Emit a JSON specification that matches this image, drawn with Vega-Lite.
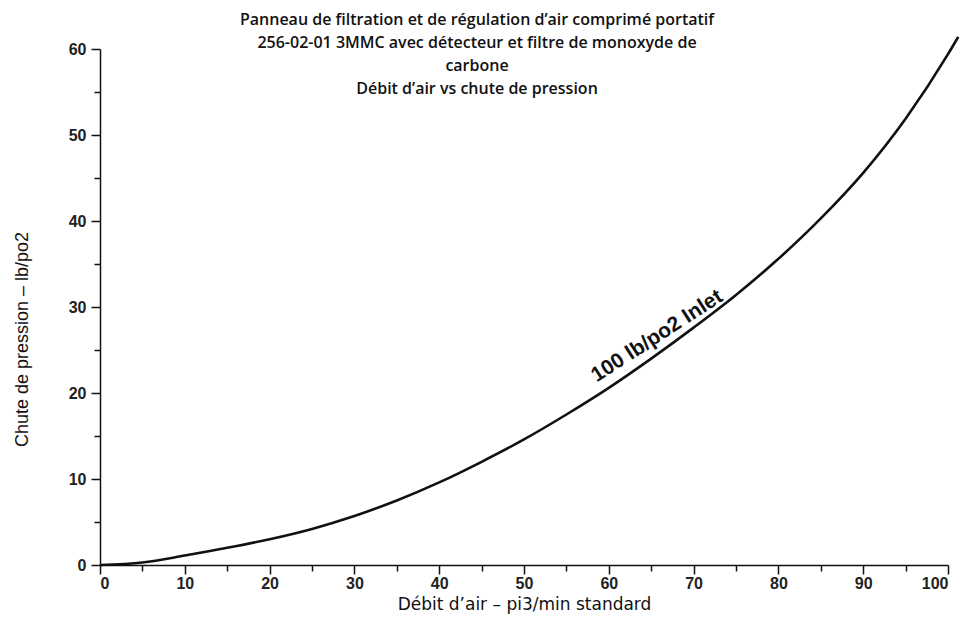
{
  "$schema": "https://vega.github.io/schema/vega-lite/v6.json",
  "autosize": "none",
  "width": 848,
  "height": 516,
  "padding": {"left": 100, "top": 49, "right": 19, "bottom": 63},
  "background": "white",
  "config": {
    "view": {"stroke": null},
    "axis": {
      "grid": false,
      "domainColor": "#111",
      "domainWidth": 1.5,
      "tickColor": "#111",
      "tickWidth": 1.5,
      "labelFont": "Liberation Sans, Arial, sans-serif",
      "labelFontSize": 16,
      "labelFontWeight": "bold",
      "labelColor": "#222",
      "titleFontWeight": "normal",
      "titleColor": "#111"
    }
  },
  "title": {
    "text": ["Panneau de filtration et de régulation d’air comprimé portatif", "256-02-01 3MMC avec détecteur et filtre de monoxyde de", "carbone", "Débit d’air vs chute de pression"],
    "font": "Open Sans",
    "fontSize": 16,
    "fontWeight": 600,
    "color": "#111",
    "lineHeight": 23,
    "anchor": "middle",
    "dx": -47,
    "offset": -65
  },
  "layer": [
    {
      "data": {
        "values": [
          {"flow": 0, "drop": 0},
          {"flow": 5, "drop": 0.3},
          {"flow": 10, "drop": 1.1},
          {"flow": 15, "drop": 2.0},
          {"flow": 20, "drop": 3.0},
          {"flow": 25, "drop": 4.2},
          {"flow": 30, "drop": 5.7},
          {"flow": 35, "drop": 7.5},
          {"flow": 40, "drop": 9.6},
          {"flow": 45, "drop": 12.0},
          {"flow": 50, "drop": 14.6},
          {"flow": 55, "drop": 17.5},
          {"flow": 60, "drop": 20.6},
          {"flow": 65, "drop": 24.0},
          {"flow": 70, "drop": 27.6},
          {"flow": 75, "drop": 31.4},
          {"flow": 80, "drop": 35.6},
          {"flow": 85, "drop": 40.3},
          {"flow": 90, "drop": 45.6},
          {"flow": 95, "drop": 51.9},
          {"flow": 100, "drop": 59.4},
          {"flow": 101.2, "drop": 61.4}
        ]
      },
      "mark": {"type": "line", "color": "#111", "strokeWidth": 2.6, "interpolate": "monotone", "clip": false},
      "encoding": {
        "x": {
          "field": "flow", "type": "quantitative",
          "scale": {"domain": [0, 100], "nice": false},
          "axis": {
            "title": "Débit d’air – pi3/min standard",
            "titleFont": "DejaVu Sans",
            "titleFontSize": 17,
            "values": [0, 5, 10, 15, 20, 25, 30, 35, 40, 45, 50, 55, 60, 65, 70, 75, 80, 85, 90, 95, 100],
            "labelExpr": "datum.value % 10 === 0 ? datum.label : ''",
            "tickSize": {"condition": {"test": "datum.value % 10 === 0", "value": 9}, "value": 6},
            "labelPadding": 1,
            "titlePadding": 5
          }
        },
        "y": {
          "field": "drop", "type": "quantitative",
          "scale": {"domain": [0, 60], "nice": false},
          "axis": {
            "title": "Chute de pression – lb/po2",
            "titleFont": "Liberation Sans, Arial, sans-serif",
            "titleFontSize": 18,
            "titleX": -78,
            "titleY": 290,
            "titleAngle": -90,
            "titleAlign": "center",
            "titleBaseline": "middle",
            "values": [0, 5, 10, 15, 20, 25, 30, 35, 40, 45, 50, 55, 60],
            "labelExpr": "datum.value % 10 === 0 ? datum.label : ''",
            "tickSize": {"condition": {"test": "datum.value % 10 === 0", "value": 9}, "value": 6},
            "labelPadding": 5
          }
        }
      }
    },
    {
      "data": {"values": [{"flow": 65.7, "drop": 26.6, "label": "100 lb/po2 Inlet"}]},
      "mark": {"type": "text", "font": "Liberation Sans, Arial, sans-serif", "fontSize": 21, "fontWeight": "bold", "color": "#111", "angle": -33, "align": "center", "baseline": "middle"},
      "encoding": {
        "x": {"field": "flow", "type": "quantitative"},
        "y": {"field": "drop", "type": "quantitative"},
        "text": {"field": "label"}
      }
    }
  ]
}
